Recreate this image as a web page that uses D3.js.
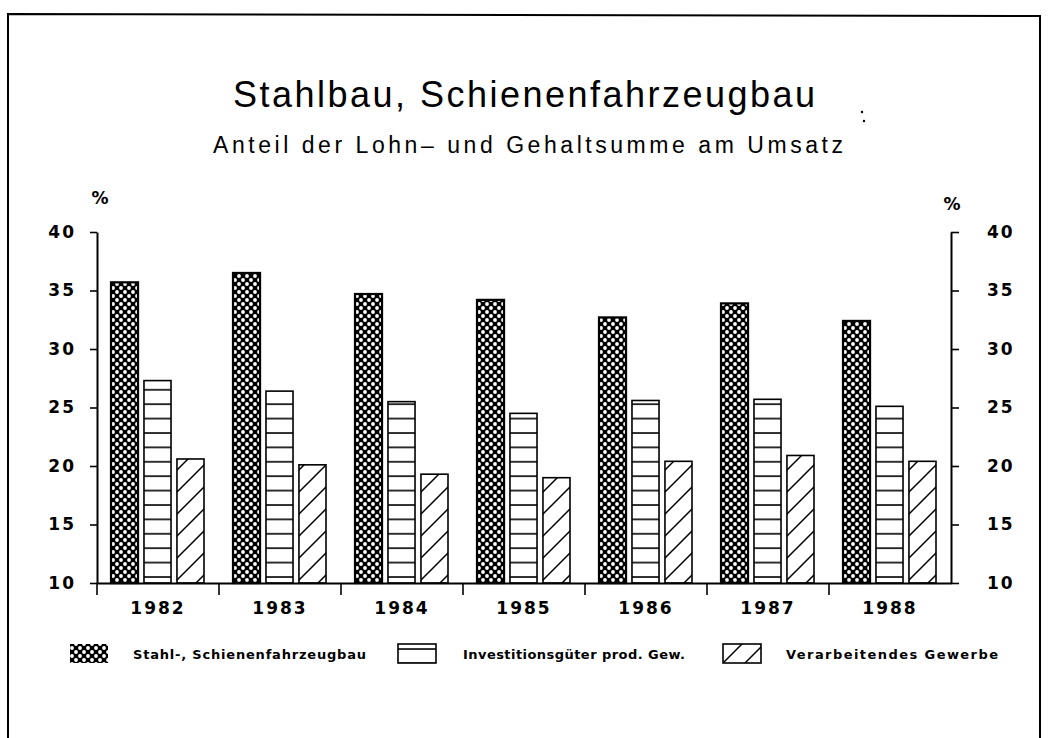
<!DOCTYPE html>
<html>
<head>
<meta charset="utf-8">
<script src="https://cdn.jsdelivr.net/npm/d3@7"></script>
<style>
  body { margin: 0; background: #fff; }
  svg { display: block; }
  .tick text { font-family: "DejaVu Sans", sans-serif; font-weight: bold; }
</style>
</head>
<body>
<div id="chart"></div>
<script>
    // values
    var years = ["1982", "1983", "1984", "1985", "1986", "1987", "1988"],
        seriesNames = ["Stahl-, Schienenfahrzeugbau", "Investitionsgüter prod. Gew.", "Verarbeitendes Gewerbe"],
        stahl = [35.7, 36.5, 34.7, 34.2, 32.7, 33.9, 32.4],
        investition = [27.3, 26.4, 25.5, 24.5, 25.6, 25.7, 25.1],
        verarbeitend = [20.6, 20.1, 19.3, 19.0, 20.4, 20.9, 20.4],
        yTicks = [10, 15, 20, 25, 30, 35, 40];

    var W = 1055, H = 738;

    var svg = d3.select("#chart")
        .append("svg")
        .attr("width", W)
        .attr("height", H);

    // hatch patterns like the old plotter output
    var defs = svg.append("defs");

    var cross = defs.append("pattern")
        .attr("id", "pCross")
        .attr("patternUnits", "userSpaceOnUse")
        .attr("width", 8).attr("height", 8);
    cross.append("rect").attr("width", 8).attr("height", 8).attr("fill", "#000");
    [[0, 0], [8, 0], [0, 8], [8, 8], [4, 4]].forEach(function(p) {
        cross.append("circle").attr("cx", p[0]).attr("cy", p[1]).attr("r", 1.9).attr("fill", "#fff");
    });

    var horiz = defs.append("pattern")
        .attr("id", "pHoriz")
        .attr("patternUnits", "userSpaceOnUse")
        .attr("width", 10).attr("height", 14.4);
    horiz.append("rect").attr("width", 10).attr("height", 14.4).attr("fill", "#fff");
    horiz.append("line").attr("x1", 0).attr("x2", 10).attr("y1", 1).attr("y2", 1)
        .attr("stroke", "#000").attr("stroke-width", 1.6);

    var diag = defs.append("pattern")
        .attr("id", "pDiag")
        .attr("patternUnits", "userSpaceOnUse")
        .attr("width", 22).attr("height", 22);
    diag.append("rect").attr("width", 22).attr("height", 22).attr("fill", "#fff");
    diag.append("path").attr("d", "M0,22 L22,0 M-3,3 L3,-3 M19,25 L25,19")
        .attr("stroke", "#000").attr("stroke-width", 1.5);

    var fills = ["url(#pCross)", "url(#pHoriz)", "url(#pDiag)"],
        strokeW = [2.2, 1.6, 1.6];

    // frame (bottom edge is cut off in the scan)
    svg.append("path")
        .attr("d", "M8,738 L8,14 L1040,16 L1040,738")
        .attr("fill", "none")
        .attr("stroke", "#000")
        .attr("stroke-width", 2);

    // titles
    svg.append("text")
        .attr("x", 233).attr("y", 107)
        .attr("textLength", 582).attr("lengthAdjust", "spacing")
        .style("font-family", "Liberation Sans, Arial, sans-serif")
        .style("font-size", "36px")
        .text("Stahlbau, Schienenfahrzeugbau");

    svg.append("text")
        .attr("x", 213).attr("y", 153)
        .attr("textLength", 630).attr("lengthAdjust", "spacing")
        .style("font-family", "Liberation Sans, Arial, sans-serif")
        .style("font-size", "23px")
        .text("Anteil der Lohn\u2013 und Gehaltsumme am Umsatz");

    // stray dots from the scan
    svg.append("circle").attr("cx", 862).attr("cy", 112).attr("r", 1.2).attr("fill", "#000");
    svg.append("circle").attr("cx", 864).attr("cy", 121).attr("r", 1.2).attr("fill", "#000");

    var x = d3.scaleBand()
        .domain(years)
        .range([97, 951]);

    var xs = d3.scaleBand()
        .domain(d3.range(3))
        .range([14, 107])
        .paddingInner(0.18);

    var y = d3.scaleLinear()
        .domain([10, 40])
        .range([583, 232]);

    var values = [stahl, investition, verarbeitend];

    // bars
    years.forEach(function(yr, i) {
        var g = svg.append("g").attr("transform", "translate(" + x(yr) + ",0)");
        g.selectAll("rect")
            .data(values.map(function(s, k) { return { k: k, v: s[i] }; }))
            .enter().append("rect")
            .attr("x", function(d) { return xs(d.k); })
            .attr("y", function(d) { return y(d.v); })
            .attr("width", xs.bandwidth())
            .attr("height", function(d) { return y(10) - y(d.v); })
            .attr("fill", function(d) { return fills[d.k]; })
            .attr("stroke", "#000")
            .attr("stroke-width", function(d) { return strokeW[d.k]; });
    });

    // left axis
    var yl = svg.append("g")
        .attr("transform", "translate(97,0)")
        .call(d3.axisLeft(y).tickValues(yTicks).tickSize(7).tickSizeOuter(0).tickPadding(14));
    // right axis
    var yr = svg.append("g")
        .attr("transform", "translate(951,0)")
        .call(d3.axisRight(y).tickValues(yTicks).tickSize(8).tickSizeOuter(0).tickPadding(28));

    [yl, yr].forEach(function(a) {
        a.selectAll("text").style("font-size", "17px").attr("letter-spacing", "2px");
        a.selectAll("line").attr("stroke-width", 1.6);
        a.select(".domain").attr("stroke-width", 2);
    });

    // category axis
    var xa = svg.append("g")
        .attr("transform", "translate(0,583)")
        .call(d3.axisBottom(x).tickSize(0).tickSizeOuter(0).tickPadding(19));
    xa.select(".domain").attr("stroke-width", 2.2);
    xa.selectAll("text").style("font-size", "17px").attr("letter-spacing", "2px");

    xa.selectAll(".sep")
        .data(years)
        .enter().append("line")
        .attr("class", "sep")
        .attr("x1", function(d) { return x(d); })
        .attr("x2", function(d) { return x(d); })
        .attr("y1", 0).attr("y2", 12)
        .attr("stroke", "#000").attr("stroke-width", 1.6);

    // unit labels
    svg.append("text").attr("x", 100).attr("y", 204).attr("text-anchor", "middle")
        .style("font-family", "DejaVu Sans, sans-serif").style("font-weight", "bold").style("font-size", "17px")
        .text("%");
    svg.append("text").attr("x", 952).attr("y", 210).attr("text-anchor", "middle")
        .style("font-family", "DejaVu Sans, sans-serif").style("font-weight", "bold").style("font-size", "17px")
        .text("%");

    // legend
    var legendSwatchX = [70, 398, 723],
        legendTextX = [133, 463, 786],
        legendTextW = [233, 222, 212];

    var leg = svg.append("g").attr("class", "legend");
    seriesNames.forEach(function(name, k) {
        leg.append("rect")
            .attr("x", legendSwatchX[k]).attr("y", 644)
            .attr("width", 38).attr("height", 19)
            .attr("fill", fills[k])
            .attr("stroke", "#000")
            .attr("stroke-width", k === 0 ? 0 : 1.6);
        leg.append("text")
            .attr("x", legendTextX[k]).attr("y", 659)
            .attr("textLength", legendTextW[k]).attr("lengthAdjust", "spacing")
            .style("font-family", "DejaVu Sans, sans-serif")
            .style("font-weight", "bold")
            .style("font-size", "13px")
            .text(name);
    });
</script>
</body>
</html>
